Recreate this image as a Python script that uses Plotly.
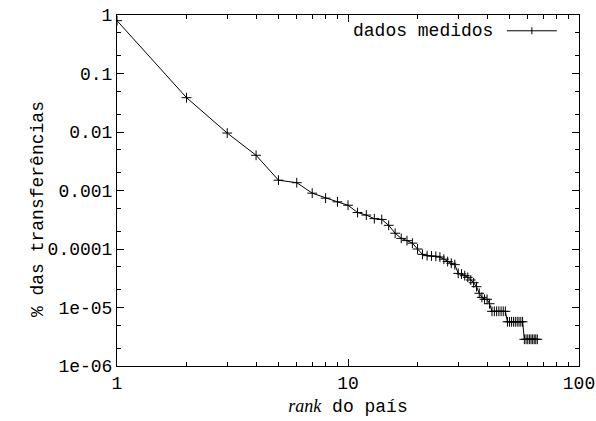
import plotly.graph_objects as go

ranks = list(range(1, 67))
share = [
    0.80, 0.0386, 0.0096, 0.0040, 0.0015, 0.00136, 0.00090, 0.00074, 0.00064, 0.00056,
    0.00042, 0.00038, 0.00033, 0.00032, 0.000254, 0.000186, 0.000152, 0.000139, 0.000126, 0.000100,
    8.1e-5, 7.7e-5, 7.6e-5, 7.5e-5, 7.3e-5, 6.7e-5, 6.1e-5, 5.7e-5, 5.4e-5, 3.83e-5,
    3.74e-5, 3.5e-5, 3.28e-5, 2.95e-5, 2.65e-5, 2.27e-5, 1.75e-5, 1.49e-5, 1.38e-5, 1.38e-5,
    1.16e-5, 8.6e-6, 8.6e-6, 8.6e-6, 8.6e-6, 8.6e-6, 8.6e-6, 8.6e-6, 5.7e-6, 5.7e-6,
    5.7e-6, 5.7e-6, 5.7e-6, 5.7e-6, 5.7e-6, 5.7e-6, 5.7e-6, 2.86e-6, 2.86e-6, 2.86e-6,
    2.86e-6, 2.86e-6, 2.86e-6, 2.86e-6, 2.86e-6, 2.86e-6,
]
y_tickvals = [1e-6, 1e-5, 1e-4, 1e-3, 1e-2, 1e-1, 1]
y_ticktext = ["1e-06", "1e-05", "0.0001", "0.001", "0.01", "0.1", "1"]
y_minor = [m * 10.0 ** e for e in range(-6, 0) for m in (2, 5)]
x_tickvals = [1, 10, 100]
x_ticktext = ["1", "10", "100"]
x_minor = [m * 10 ** e for e in range(0, 2) for m in range(2, 10)]
series_name = "dados medidos"
x_title = "<span style='font-family:Liberation Serif'><i>rank</i></span> do país"
y_title = "% das transferências"

MONO = "Liberation Mono, Courier New, monospace"
FS = 18

fig = go.Figure()
fig.add_trace(go.Scatter(
    x=ranks, y=share, mode="lines+markers", name=series_name,
    line=dict(color="black", width=1),
    marker=dict(symbol="cross-thin", size=7, line=dict(color="black", width=1)),
    showlegend=False,
))

axis_common = dict(
    type="log", showline=True, linecolor="black", linewidth=1, mirror="allticks",
    ticks="inside", ticklen=7, tickcolor="black", tickwidth=1,
    showgrid=False, zeroline=False, automargin=False,
    tickfont=dict(family=MONO, size=FS, color="black"),
)

fig.update_xaxes(**axis_common, range=[0, 2], tickmode="array",
                 tickvals=x_tickvals, ticktext=x_ticktext,
                 minor=dict(ticks="inside", ticklen=4, tickcolor="black", tickwidth=1,
                            showgrid=False, tickmode="array", tickvals=x_minor),
                 title=dict(text=x_title,
                            font=dict(family=MONO, size=FS, color="black"), standoff=6))
fig.update_yaxes(**axis_common, range=[-6, 0], tickmode="array",
                 tickvals=y_tickvals, ticktext=y_ticktext,
                 minor=dict(ticks="inside", ticklen=4, tickcolor="black", tickwidth=1,
                            showgrid=False, tickmode="array", tickvals=y_minor))

# y-axis title placed like gnuplot (slightly below center)
fig.add_annotation(xref="paper", yref="paper", x=-0.171, y=0.447, xanchor="center", yanchor="middle",
                   text=y_title, textangle=-90, showarrow=False,
                   font=dict(family=MONO, size=FS, color="black"))

# legend (gnuplot style: text then sample to the right)
fig.add_annotation(xref="paper", yref="paper", x=0.818, y=0.955, xanchor="right", yanchor="middle",
                   text=series_name, showarrow=False,
                   font=dict(family=MONO, size=FS, color="black"))
fig.add_shape(type="line", xref="paper", yref="paper", x0=0.844, x1=0.952, y0=0.955, y1=0.955,
              line=dict(color="black", width=1))
fig.add_shape(type="line", xref="paper", yref="paper", x0=0.898, x1=0.898, y0=0.945, y1=0.965,
              line=dict(color="black", width=1))

fig.update_layout(
    width=596, height=421,
    margin=dict(l=117, r=17, t=15, b=55),
    paper_bgcolor="white", plot_bgcolor="white",
)
fig.write_html("out.html")
